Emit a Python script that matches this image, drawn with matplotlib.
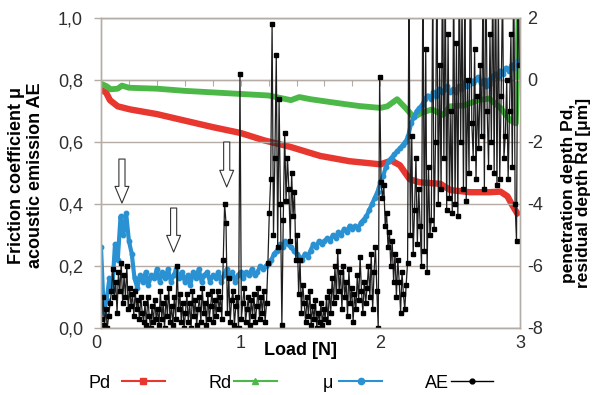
import numpy as np
import matplotlib
matplotlib.use("Agg")
import matplotlib.pyplot as plt
from matplotlib.lines import Line2D
from matplotlib import ticker

# ---------------- data ----------------
# penetration depth Pd [um] (right axis)
pd_x = [0.00, 0.036, 0.064, 0.12, 0.21, 0.40, 0.59, 0.80, 1.00, 1.17, 1.35, 1.57, 1.78,
        2.00, 2.08, 2.14, 2.21, 2.28, 2.43, 2.50, 2.64, 2.78, 2.86, 2.91, 2.94, 2.98]
pd_val = [-0.32, -0.40, -0.65, -0.85, -0.95, -1.10, -1.30, -1.52, -1.71, -1.95, -2.15, -2.45, -2.62,
          -2.72, -2.60, -2.75, -3.20, -3.30, -3.35, -3.55, -3.62, -3.62, -3.60, -3.75, -4.00, -4.30]

# residual depth Rd [um] (right axis)
rd_x = [0.00, 0.04, 0.07, 0.12, 0.15, 0.20, 0.40, 0.60, 0.80, 1.00, 1.20, 1.36, 1.42, 1.50,
        1.64, 1.75, 1.85, 2.00, 2.05, 2.12, 2.18, 2.24, 2.30, 2.37, 2.45, 2.50, 2.60, 2.70,
        2.78, 2.86, 2.93, 2.97, 2.99]
rd_val = [-0.12, -0.20, -0.30, -0.28, -0.18, -0.25, -0.28, -0.35, -0.40, -0.45, -0.50, -0.65, -0.55, -0.62,
          -0.71, -0.78, -0.84, -0.90, -0.85, -0.62, -0.90, -1.20, -1.05, -0.95, -1.13, -0.85, -0.82, -0.65,
          -0.60, -0.90, -1.30, -1.40, 2.00]

# friction coefficient mu (left axis), sampled every 0.02 N
mu_val = [
    0.26, 0.05, 0.09, 0.16, 0.12, 0.27, 0.22, 0.36, 0.30, 0.37, 0.28,
    0.24, 0.16, 0.13, 0.17, 0.15, 0.18, 0.14, 0.17, 0.16, 0.19,
    0.15, 0.18, 0.16, 0.19, 0.15, 0.17, 0.19, 0.16, 0.18, 0.15,
    0.17, 0.14, 0.18, 0.16, 0.19, 0.15, 0.17, 0.18, 0.15, 0.17,
    0.16, 0.18, 0.15, 0.17, 0.19, 0.16, 0.18, 0.15, 0.17, 0.18,
    0.16, 0.18, 0.17, 0.19, 0.17, 0.18, 0.20, 0.19, 0.20, 0.21,
    0.22, 0.24, 0.25, 0.27, 0.26, 0.28, 0.27, 0.26, 0.25, 0.24,
    0.23, 0.22, 0.24, 0.23, 0.25, 0.27, 0.26, 0.28, 0.27, 0.28,
    0.29, 0.28, 0.30, 0.29, 0.31, 0.30, 0.32, 0.31, 0.33, 0.32,
    0.33, 0.32, 0.34, 0.35, 0.36, 0.38, 0.40, 0.42, 0.44, 0.47,
    0.49, 0.52, 0.54, 0.55, 0.56, 0.57, 0.58, 0.59, 0.60, 0.62,
    0.66, 0.68, 0.70, 0.71, 0.72, 0.74, 0.75, 0.74, 0.76, 0.75,
    0.77, 0.76, 0.77, 0.78, 0.76, 0.77, 0.76, 0.78, 0.77, 0.79,
    0.78, 0.80, 0.79, 0.80, 0.81, 0.79, 0.80, 0.78, 0.80, 0.81,
    0.82, 0.81, 0.83, 0.82, 0.84, 0.83, 0.85, 0.84, 0.86, 0.86,
]
mu_x = np.arange(len(mu_val)) * 0.02

# acoustic emission AE (left axis), sampled every 0.01 N
ae_val = [
    0.03, 0.10, 0.01, 0.06, 0.00, 0.04, 0.08, 0.12, 0.19, 0.10,
    0.15, 0.05, 0.18, 0.12, 0.21, 0.08, 0.17, 0.10, 0.20, 0.06,
    0.13, 0.07, 0.11, 0.04, 0.12, 0.06, 0.09, 0.03, 0.10, 0.05,
    0.02, 0.08, 0.01, 0.10, 0.04, 0.00, 0.07, 0.02, 0.09, 0.03,
    0.06, 0.01, 0.12, 0.03, 0.08, 0.00, 0.10, 0.04, 0.13, 0.02,
    0.07, 0.01, 0.10, 0.03, 0.20, 0.06, 0.11, 0.02, 0.08, 0.00,
    0.05, 0.11, 0.02, 0.08, 0.00, 0.12, 0.04, 0.09, 0.01, 0.06,
    0.10, 0.02, 0.13, 0.05, 0.08, 0.01, 0.11, 0.03, 0.07, 0.12,
    0.02, 0.09, 0.04, 0.12, 0.06, 0.10, 0.03, 0.22, 0.40, 0.34,
    0.05, 0.16, 0.02, 0.09, 0.12, 0.01, 0.07, 0.10, 0.00, 0.82,
    0.03, 0.08, 0.13, 0.02, 0.06, 0.10, 0.01, 0.09, 0.04, 0.11,
    0.02, 0.07, 0.13, 0.03, 0.10, 0.05, 0.12, 0.02, 0.08, 0.21,
    0.37, 0.48, 0.98, 0.30, 0.55, 0.88, 0.26, 0.74, 0.40, 0.01,
    0.35, 0.63, 0.41, 0.55, 0.45, 0.28, 0.50, 0.36, 0.44, 0.22,
    0.30, 0.11, 0.22, 0.05, 0.14, 0.08, 0.02, 0.10, 0.04, 0.12,
    0.01, 0.07, 0.03, 0.09, 0.00, 0.05, 0.02, 0.08, 0.01, 0.06,
    0.03, 0.10, 0.02, 0.12, 0.05, 0.16, 0.08, 0.20, 0.10, 0.25,
    0.12, 0.18, 0.06, 0.20, 0.10, 0.15, 0.04, 0.19, 0.08, 0.13,
    0.02, 0.11, 0.06, 0.17, 0.09, 0.23, 0.12, 0.05, 0.15, 0.08,
    0.13, 0.20, 0.10, 0.24, 0.06, 0.18, 0.26, 0.12, 0.00, 0.81,
    0.47, 0.42, 0.46, 0.33, 0.37, 0.26, 0.31, 0.20, 0.28, 0.15,
    0.24, 0.10, 0.22, 0.15, 0.05, 0.18, 0.11, 0.06, 0.14, 0.21,
    1.10, 0.30, 0.62, 0.24, 0.38, 0.55, 0.27, 0.45, 0.33, 0.20,
    1.20, 0.25, 0.90, 0.18, 0.52, 0.30, 0.35, 1.10, 0.32, 0.60,
    1.15, 0.40, 0.85, 0.45, 1.20, 0.55, 1.10, 0.38, 0.95, 0.42,
    0.70, 0.37, 1.15, 0.40, 0.92, 0.36, 1.20, 0.60, 1.05, 0.45,
    1.10, 0.41, 0.80, 0.50, 1.20, 0.66, 0.55, 0.90, 0.48, 0.75,
    0.58, 0.85, 0.62, 1.10, 0.45, 1.20, 0.70, 0.52, 0.95, 0.60,
    1.15, 0.50, 1.20, 0.46, 1.05, 0.48, 0.75, 1.10, 0.55, 0.62,
    0.80, 0.48, 0.70, 0.95, 0.52, 1.20, 0.40, 0.28, 1.10, 0.85,
]
ae_x = np.arange(len(ae_val)) * 0.01 + 0.005

# annotation arrows (x, y_start, y_end) in left-axis units
arrows = [(0.15, 0.545, 0.403), (0.52, 0.387, 0.245), (0.90, 0.600, 0.455)]

x_ticks = [0, 1, 2, 3]
left_ticks = [0.0, 0.2, 0.4, 0.6, 0.8, 1.0]
right_ticks = [-8, -6, -4, -2, 0, 2]

# ---------------- style ----------------
plt.rcParams['font.family'] = ['Liberation Sans', 'DejaVu Sans']
plt.rcParams['axes.unicode_minus'] = False

RED = '#e8372e'
GREEN = '#4cb848'
BLUE = '#2a92d2'
GRID = '#b5aca6'
TXT = '#2e2e2e'

fig = plt.figure(figsize=(5.96, 3.95), dpi=100)
ax = fig.add_axes([101 / 596, 1 - 328 / 395, 419 / 596, 310 / 395])
ax2 = ax.twinx()
ax.set_zorder(ax2.get_zorder() + 1)
ax.patch.set_visible(False)

ax2.plot(pd_x, pd_val, color=RED, lw=4.6)
ax2.plot(rd_x, rd_val, color=GREEN, lw=4.2)
ax.plot(mu_x, mu_val, color=BLUE, lw=3.0, marker='o', ms=3.2, mec=BLUE, mfc=BLUE)
ax.plot(ae_x, ae_val, color='#1e1e1e', lw=0.9, marker='s', ms=3.0, mfc='k', mec='k')

ax.set_xlim(0, 3)
ax.set_ylim(0, 1)
ax2.set_ylim(-8, 2)

ax.set_xticks(x_ticks)
ax.set_xticklabels([str(t) for t in x_ticks])
ax.set_yticks(left_ticks)
ax.yaxis.set_major_formatter(ticker.FuncFormatter(lambda v, p: f"{v:.1f}".replace('.', ',')))
ax2.set_yticks(right_ticks)
ax2.set_yticklabels([str(t) for t in right_ticks])

ax.tick_params(axis='x', length=0, pad=5, labelsize=13, labelcolor=TXT)
ax.tick_params(axis='y', length=5, width=1, color=GRID, pad=8, labelsize=13, labelcolor=TXT)
ax2.tick_params(axis='y', length=0, pad=5, labelsize=13, labelcolor=TXT)
ax.get_xticklabels()[0].set_horizontalalignment('right')

ax.yaxis.grid(True, color=GRID, lw=1)
ax.set_axisbelow(True)
for a in (ax, ax2):
    for s in a.spines.values():
        s.set_color(GRID)
        s.set_linewidth(1)

# secondary x-axis line at right-axis value 0 with small upward ticks
sec = ax2.secondary_xaxis(0.8)
sec.set_xticks(np.arange(0.2, 3.0, 0.2))
sec.tick_params(axis='x', direction='in', length=4.5, color=GRID, labelbottom=False, labeltop=False)
sec.spines['bottom'].set_color(GRID)
sec.set_xticklabels([])

for (xa, y0, y1) in arrows:
    ax.annotate('', xy=(xa, y1), xytext=(xa, y0),
                arrowprops=dict(arrowstyle='simple,head_length=0.6,head_width=0.5,tail_width=0.22',
                                fc='white', ec='#333333', lw=0.8, mutation_scale=20,
                                shrinkA=0, shrinkB=0))

ax.set_xlabel('Load [N]', fontsize=13, fontweight='bold')
ax.xaxis.set_label_coords(0.475, -0.045)

fig.text(26 / 596, 1 - 175 / 395, 'Friction coefficient μ\nacoustic emission AE', rotation=90,
         ha='center', va='center', fontsize=13, fontweight='bold', linespacing=1.15)
fig.text(576 / 596, 1 - 193 / 395, 'penetration depth Pd,\nresidual depth Rd [μm]', rotation=90,
         ha='center', va='center', fontsize=12.5, fontweight='bold', linespacing=1.0)

# legend entries (text first, handle after)
entries = [
    ('Pd', Line2D([], [], color=RED, lw=1.5, marker='s', ms=5), 88, 0.67),
    ('Rd', Line2D([], [], color=GREEN, lw=1.5, marker='^', ms=5), 209, 0.11),
    ('μ', Line2D([], [], color=BLUE, lw=1.5, marker='o', ms=4.5), 323, 0.33),
    ('AE', Line2D([], [], color='k', lw=1, marker='o', ms=3.5), 425, 0.11),
]
for label, h, xpx, pad in entries:
    fig.legend(handles=[h], labels=[label], loc='center left',
               bbox_to_anchor=(xpx / 596, 1 - 383 / 395), markerfirst=False, frameon=False,
               fontsize=13, handlelength=2.35, handletextpad=pad, borderpad=0, borderaxespad=0)

fig.savefig('out.png', dpi=100)
